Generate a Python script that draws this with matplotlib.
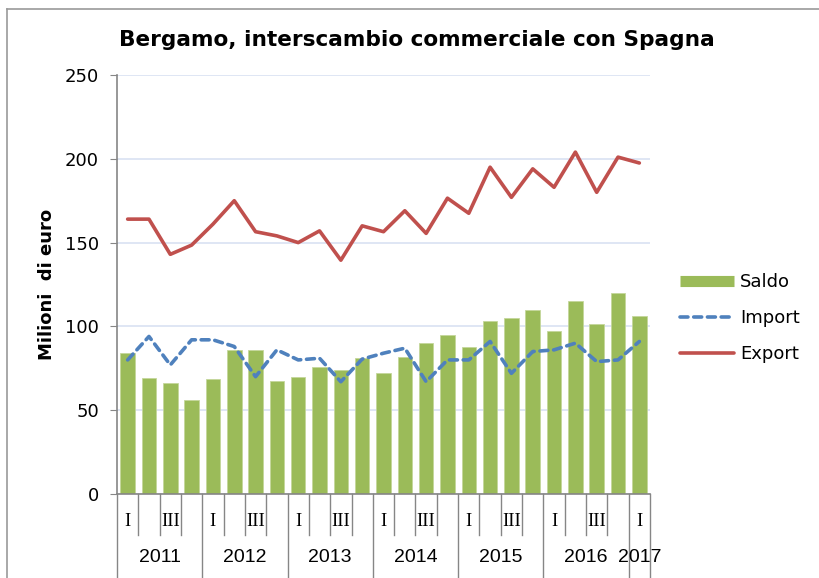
import matplotlib.pyplot as plt
from matplotlib.lines import Line2D
from matplotlib.transforms import blended_transform_factory

# quarterly data, 2011 Q1 .. 2017 Q1
years = ["2011", "2012", "2013", "2014", "2015", "2016", "2017"]
quarters_per_year = [4, 4, 4, 4, 4, 4, 1]
quarter_labels = ["I", "", "III", ""]

saldo = [84, 69.5, 66, 56, 68.5, 86, 86, 67.5, 70, 76, 74, 81, 72,
         82, 90, 95, 88, 103, 105, 109.5, 97, 115, 101.5, 120, 106]
import_ = [80, 94, 77, 92, 92, 88, 70, 86, 80, 81, 67, 80.5, 84,
           87, 67, 80, 80, 91, 72, 85, 86, 90, 79, 80, 91]
export = [164, 164, 143, 148.5, 161, 175, 156.5, 154, 150, 157, 139.5, 160, 156.5,
          169, 155.5, 176.5, 167.5, 195, 177, 194, 183, 204, 180, 201, 197.5]

GREEN = "#9BBB59"
BLUE = "#4F81BD"
RED = "#C0504D"
AXIS = "#868686"
GRID = "#D9E1F2"

W, H = 819, 578
fig = plt.figure(figsize=(W / 100, H / 100), dpi=100)
ax = fig.add_axes([117 / W, 1 - 494 / H, (650 - 117) / W, (494 - 75) / H])

x = list(range(len(saldo)))
ax.bar(x, saldo, width=0.68, color=GREEN, edgecolor="#C4D79B", linewidth=0.6, zorder=2)
ax.plot(x, import_, color=BLUE, lw=2.6, ls=(0, (2.2, 1.6)), dash_capstyle="round", zorder=3)
ax.plot(x, export, color=RED, lw=2.6, solid_capstyle="round", zorder=3)

ax.set_xlim(-0.5, len(saldo) - 0.5)
ax.set_ylim(0, 250)
ax.set_yticks(range(0, 251, 50))
ax.tick_params(axis="y", labelsize=13, colors=AXIS, labelcolor="black", length=5, pad=8)
ax.set_xticks([])
ax.yaxis.grid(True, color=GRID, lw=1.2, zorder=0)
ax.set_axisbelow(True)
for s in ("top", "right"):
    ax.spines[s].set_visible(False)
for s in ("left", "bottom"):
    ax.spines[s].set_color(AXIS)
    ax.spines[s].set_linewidth(1.2)

ax.set_ylabel("Milioni  di euro", fontsize=13, fontweight="bold", labelpad=6)
fig.text(417 / W, 1 - 40 / H, "Bergamo, interscambio commerciale con Spagna",
         ha="center", va="center", fontsize=15.6, fontweight="bold")

# two-level category axis drawn below the plot
trans = blended_transform_factory(ax.transData, ax.transAxes)
ph = 494 - 75
pos = 0
for year, nq in zip(years, quarters_per_year):
    for q in range(nq):
        b = pos + q - 0.5
        depth = 84 if q == 0 else 41
        ax.add_line(Line2D([b, b], [0, -depth / ph], transform=trans, color=AXIS,
                           lw=1.0, clip_on=False))
        if quarter_labels[q]:
            ax.text(pos + q, -27 / ph, quarter_labels[q], transform=trans, ha="center",
                    va="center", fontsize=13.5, family="Liberation Serif")
    ax.text(pos + (nq - 1) / 2, -63 / ph, year, transform=trans, ha="center",
            va="center", fontsize=14, family=["Liberation Sans Narrow", "Liberation Sans"])
    pos += nq
end = pos - 0.5
ax.add_line(Line2D([end, end], [0, -84 / ph], transform=trans, color=AXIS,
                   lw=1.0, clip_on=False))

handles = [Line2D([], [], color=GREEN, lw=8, solid_capstyle="butt"),
           Line2D([], [], color=BLUE, lw=2.6, ls=(0, (2.2, 1.6)), dash_capstyle="round"),
           Line2D([], [], color=RED, lw=2.6, solid_capstyle="round")]
ax.legend(handles, ["Saldo", "Import", "Export"], loc="upper left",
          bbox_to_anchor=(673 / W, 1 - 266 / H), bbox_transform=fig.transFigure,
          frameon=False, fontsize=13, handlelength=3.0, labelspacing=1.0,
          handletextpad=0.3, borderaxespad=0)

# chart border (clipped at right and bottom in the original)
fig.add_artist(Line2D([7 / W, 7 / W], [0, 1 - 9 / H], color="#9A9A9A", lw=1.2))
fig.add_artist(Line2D([7 / W, 1], [1 - 9 / H, 1 - 9 / H], color="#9A9A9A", lw=1.2))

fig.savefig("out.png", dpi=100)
